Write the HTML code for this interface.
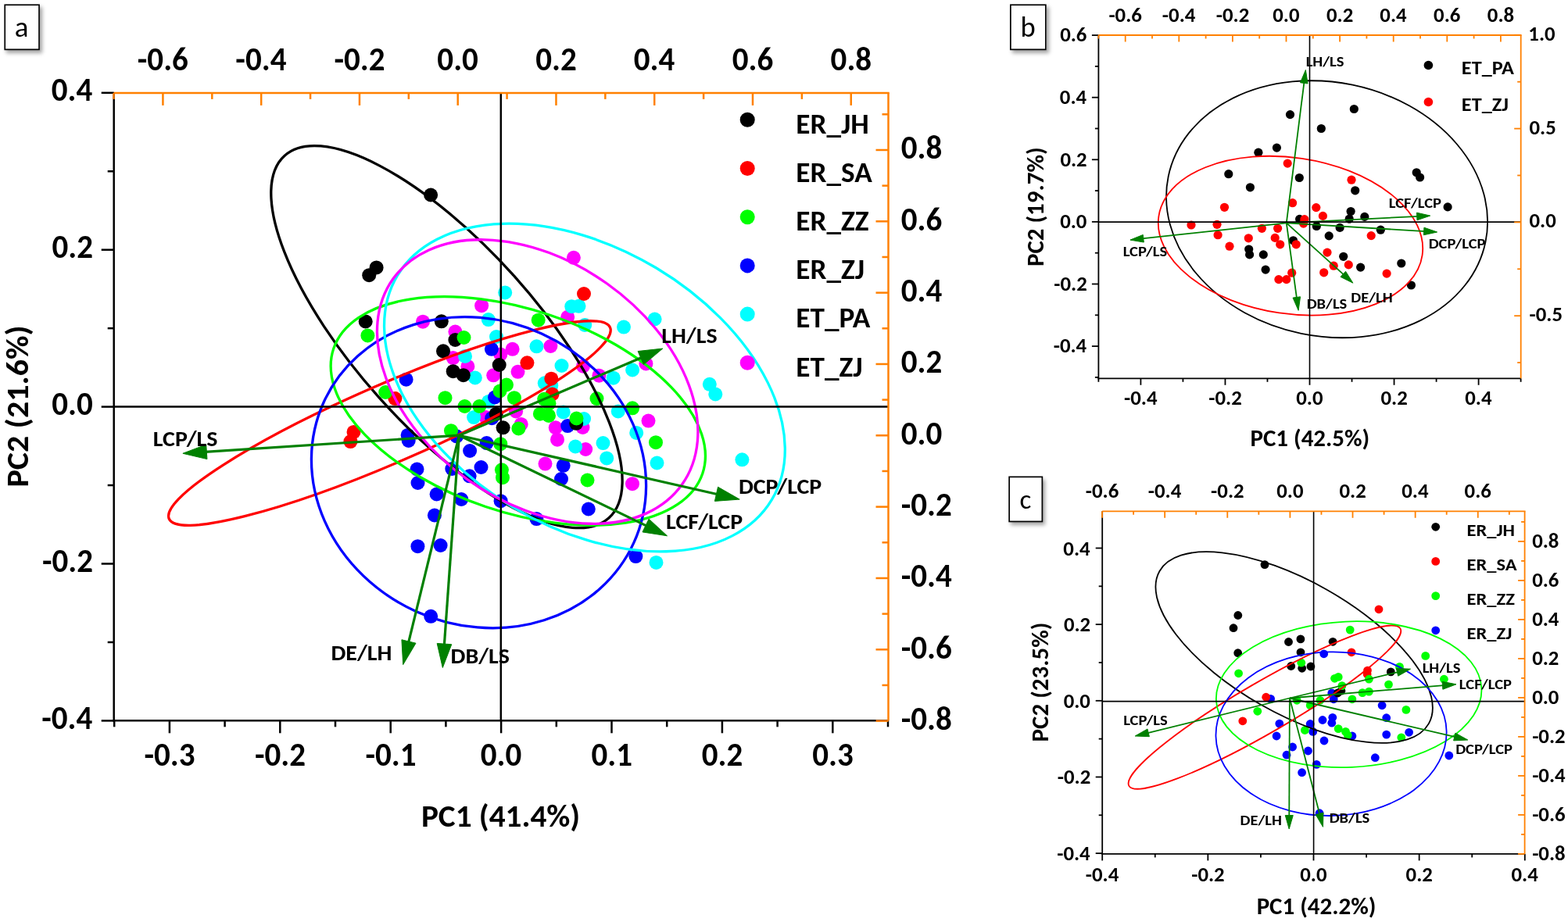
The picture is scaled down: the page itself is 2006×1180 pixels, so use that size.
<!DOCTYPE html>
<html><head><meta charset="utf-8"><title>PCA biplots</title>
<style>
html,body{margin:0;padding:0;background:#fff;}
#wrap{position:relative;width:2006px;height:1180px;overflow:hidden;background:#fff;}
#wrap svg{position:absolute;left:0;top:0;display:block;}
.pl{position:absolute;background:#fff;box-shadow:3px 4px 5px rgba(0,0,0,0.36);}
</style></head>
<body>
<div id="wrap">
<div class="pl" style="left:5.4px;top:5.4px;width:45.5px;height:58.8px"></div>
<div class="pl" style="left:1292.0px;top:5.4px;width:46.7px;height:58.8px"></div>
<div class="pl" style="left:1290.3px;top:609.5px;width:43.9px;height:58.8px"></div>
<svg width="2006" height="1180" viewBox="0 0 2006 1180">
<rect x="6.25" y="6.25" width="43.80" height="57.10" fill="none" stroke="#000" stroke-width="1.7"/>
<rect x="1292.85" y="6.25" width="45.00" height="57.10" fill="none" stroke="#000" stroke-width="1.7"/>
<rect x="1291.15" y="610.35" width="42.20" height="57.10" fill="none" stroke="#000" stroke-width="1.7"/>
<g fill="#FF00FF"><circle cx="733.9" cy="329.8" r="9"/><circle cx="616.1" cy="391.2" r="9"/><circle cx="541.0" cy="411.7" r="9"/><circle cx="726.2" cy="405.8" r="9"/><circle cx="582.4" cy="424.5" r="9"/><circle cx="655.6" cy="446.8" r="9"/><circle cx="704.4" cy="443.0" r="9"/><circle cx="640.3" cy="453.6" r="9"/><circle cx="579.7" cy="458.1" r="9"/><circle cx="598.4" cy="468.9" r="9"/><circle cx="631.2" cy="480.3" r="9"/><circle cx="662.5" cy="475.8" r="9"/><circle cx="746.0" cy="468.7" r="9"/><circle cx="826.4" cy="465.4" r="9"/><circle cx="766.4" cy="480.7" r="9"/><circle cx="829.5" cy="538.6" r="9"/><circle cx="745.5" cy="547.0" r="9"/><circle cx="749.2" cy="575.0" r="9"/><circle cx="809.0" cy="619.2" r="9"/><circle cx="621.5" cy="534.1" r="9"/><circle cx="660.1" cy="526.4" r="9"/><circle cx="666.7" cy="542.9" r="9"/><circle cx="710.8" cy="547.3" r="9"/><circle cx="713.0" cy="562.7" r="9"/><circle cx="697.5" cy="593.6" r="9"/></g>
<g fill="#00FFFF"><circle cx="646.2" cy="374.5" r="9"/><circle cx="731.3" cy="392.2" r="9"/><circle cx="740.5" cy="391.8" r="9"/><circle cx="748.2" cy="416.0" r="9"/><circle cx="798.0" cy="418.6" r="9"/><circle cx="837.6" cy="408.5" r="9"/><circle cx="784.7" cy="483.7" r="9"/><circle cx="809.1" cy="473.5" r="9"/><circle cx="907.8" cy="491.8" r="9"/><circle cx="915.3" cy="504.5" r="9"/><circle cx="790.8" cy="526.4" r="9"/><circle cx="747.1" cy="536.0" r="9"/><circle cx="814.2" cy="553.9" r="9"/><circle cx="771.5" cy="567.1" r="9"/><circle cx="776.2" cy="586.4" r="9"/><circle cx="840.5" cy="592.5" r="9"/><circle cx="949.4" cy="588.3" r="9"/><circle cx="624.8" cy="409.1" r="9"/><circle cx="635.0" cy="431.0" r="9"/><circle cx="686.5" cy="443.3" r="9"/><circle cx="595.0" cy="455.9" r="9"/><circle cx="718.5" cy="468.0" r="9"/><circle cx="607.8" cy="483.5" r="9"/><circle cx="705.3" cy="493.4" r="9"/><circle cx="625.1" cy="513.9" r="9"/><circle cx="606.1" cy="534.1" r="9"/><circle cx="720.7" cy="527.5" r="9"/><circle cx="736.1" cy="571.5" r="9"/><circle cx="839.5" cy="719.9" r="9"/><circle cx="696.8" cy="490.3" r="9"/></g>
<g fill="#0000FF"><circle cx="519.6" cy="485.7" r="9"/><circle cx="521.6" cy="556.9" r="9"/><circle cx="522.7" cy="564.0" r="9"/><circle cx="533.5" cy="600.5" r="9"/><circle cx="534.5" cy="618.0" r="9"/><circle cx="558.6" cy="632.5" r="9"/><circle cx="590.2" cy="639.0" r="9"/><circle cx="555.9" cy="659.5" r="9"/><circle cx="534.4" cy="699.2" r="9"/><circle cx="563.6" cy="698.0" r="9"/><circle cx="578.3" cy="600.0" r="9"/><circle cx="600.6" cy="609.3" r="9"/><circle cx="615.5" cy="598.0" r="9"/><circle cx="551.2" cy="788.8" r="9"/><circle cx="628.9" cy="446.8" r="9"/><circle cx="633.0" cy="508.5" r="9"/><circle cx="629.2" cy="535.2" r="9"/><circle cx="584.1" cy="558.3" r="9"/><circle cx="622.6" cy="567.1" r="9"/><circle cx="601.1" cy="577.0" r="9"/><circle cx="718.0" cy="613.0" r="9"/><circle cx="720.7" cy="595.8" r="9"/><circle cx="726.2" cy="545.1" r="9"/><circle cx="752.8" cy="651.5" r="9"/><circle cx="686.4" cy="664.1" r="9"/><circle cx="640.6" cy="641.2" r="9"/><circle cx="813.4" cy="712.1" r="9"/></g>
<g fill="#000000"><circle cx="551.1" cy="249.5" r="9"/><circle cx="481.6" cy="342.4" r="9"/><circle cx="472.2" cy="352.2" r="9"/><circle cx="467.7" cy="411.5" r="9"/><circle cx="564.8" cy="411.3" r="9"/><circle cx="582.4" cy="435.0" r="9"/><circle cx="567.0" cy="449.3" r="9"/><circle cx="579.7" cy="475.2" r="9"/><circle cx="592.8" cy="480.2" r="9"/><circle cx="638.7" cy="467.0" r="9"/><circle cx="634.7" cy="529.7" r="9"/><circle cx="643.6" cy="547.3" r="9"/><circle cx="737.2" cy="541.8" r="9"/></g>
<g fill="#FF0000"><circle cx="747.0" cy="376.0" r="9"/><circle cx="706.5" cy="504.5" r="9"/><circle cx="674.4" cy="464.3" r="9"/><circle cx="705.3" cy="484.7" r="9"/><circle cx="505.4" cy="510.1" r="9"/><circle cx="452.5" cy="552.9" r="9"/><circle cx="448.4" cy="565.1" r="9"/></g>
<g fill="#00FF00"><circle cx="470.4" cy="429.4" r="9"/><circle cx="493.2" cy="502.0" r="9"/><circle cx="569.5" cy="509.2" r="9"/><circle cx="577.0" cy="551.2" r="9"/><circle cx="593.5" cy="432.0" r="9"/><circle cx="688.7" cy="409.7" r="9"/><circle cx="648.0" cy="492.5" r="9"/><circle cx="639.5" cy="500.5" r="9"/><circle cx="594.5" cy="520.0" r="9"/><circle cx="613.3" cy="520.0" r="9"/><circle cx="657.9" cy="509.2" r="9"/><circle cx="663.4" cy="548.4" r="9"/><circle cx="696.2" cy="510.8" r="9"/><circle cx="702.5" cy="516.5" r="9"/><circle cx="690.9" cy="529.7" r="9"/><circle cx="702.0" cy="531.9" r="9"/><circle cx="737.5" cy="535.5" r="9"/><circle cx="640.3" cy="568.2" r="9"/><circle cx="641.9" cy="601.3" r="9"/><circle cx="643.0" cy="611.2" r="9"/><circle cx="751.5" cy="614.5" r="9"/><circle cx="763.5" cy="510.1" r="9"/><circle cx="809.1" cy="522.3" r="9"/><circle cx="839.0" cy="566.2" r="9"/></g>
<ellipse cx="571.47" cy="431.15" rx="116.23" ry="311.10" transform="rotate(138.21 571.47 431.15)" fill="none" stroke="#000000" stroke-width="3.3"/>
<ellipse cx="498.41" cy="541.55" rx="50.19" ry="307.53" transform="rotate(66.54 498.41 541.55)" fill="none" stroke="#FF0000" stroke-width="3.3"/>
<ellipse cx="662.80" cy="525.99" rx="129.33" ry="249.17" transform="rotate(108.71 662.80 525.99)" fill="none" stroke="#00FF00" stroke-width="3.3"/>
<ellipse cx="612.50" cy="604.68" rx="195.05" ry="217.79" transform="rotate(114.33 612.50 604.68)" fill="none" stroke="#0000FF" stroke-width="3.3"/>
<ellipse cx="747.92" cy="496.03" rx="178.44" ry="279.15" transform="rotate(120.96 747.92 496.03)" fill="none" stroke="#00FFFF" stroke-width="3.3"/>
<ellipse cx="687.66" cy="488.53" rx="153.84" ry="226.91" transform="rotate(125.49 687.66 488.53)" fill="none" stroke="#FF00FF" stroke-width="3.3"/>
<line x1="587.40" y1="557.20" x2="821.59" y2="457.28" stroke="#008000" stroke-width="3.2"/>
<polygon points="847.80,446.10 823.40,466.62 816.10,449.52" fill="#008000" stroke="#008000" stroke-width="1" stroke-linejoin="round"/>
<line x1="587.40" y1="557.20" x2="262.34" y2="578.44" stroke="#008000" stroke-width="3.2"/>
<polygon points="233.90,580.30 263.73,569.03 264.94,587.59" fill="#008000" stroke="#008000" stroke-width="1" stroke-linejoin="round"/>
<line x1="587.40" y1="557.20" x2="918.41" y2="632.76" stroke="#008000" stroke-width="3.2"/>
<polygon points="946.20,639.10 914.40,641.38 918.53,623.25" fill="#008000" stroke="#008000" stroke-width="1" stroke-linejoin="round"/>
<line x1="587.40" y1="557.20" x2="827.84" y2="673.40" stroke="#008000" stroke-width="3.2"/>
<polygon points="853.50,685.80 821.99,680.90 830.09,664.16" fill="#008000" stroke="#008000" stroke-width="1" stroke-linejoin="round"/>
<line x1="587.40" y1="557.20" x2="522.47" y2="822.91" stroke="#008000" stroke-width="3.2"/>
<polygon points="515.70,850.60 513.91,818.76 531.97,823.18" fill="#008000" stroke="#008000" stroke-width="1" stroke-linejoin="round"/>
<line x1="587.40" y1="557.20" x2="568.32" y2="826.07" stroke="#008000" stroke-width="3.2"/>
<polygon points="566.30,854.50 559.18,823.42 577.74,824.73" fill="#008000" stroke="#008000" stroke-width="1" stroke-linejoin="round"/>
<line x1="145.70" y1="520.50" x2="1136.50" y2="520.50" stroke="#000" stroke-width="2.5" stroke-linecap="butt"/>
<line x1="640.80" y1="118.90" x2="640.80" y2="922.30" stroke="#000" stroke-width="2.5" stroke-linecap="butt"/>
<line x1="129.70" y1="922.40" x2="145.70" y2="922.40" stroke="#000" stroke-width="2.5" stroke-linecap="butt"/>
<line x1="137.70" y1="821.95" x2="145.70" y2="821.95" stroke="#000" stroke-width="2.5" stroke-linecap="butt"/>
<line x1="129.70" y1="721.50" x2="145.70" y2="721.50" stroke="#000" stroke-width="2.5" stroke-linecap="butt"/>
<line x1="137.70" y1="621.05" x2="145.70" y2="621.05" stroke="#000" stroke-width="2.5" stroke-linecap="butt"/>
<line x1="129.70" y1="520.60" x2="145.70" y2="520.60" stroke="#000" stroke-width="2.5" stroke-linecap="butt"/>
<line x1="137.70" y1="420.15" x2="145.70" y2="420.15" stroke="#000" stroke-width="2.5" stroke-linecap="butt"/>
<line x1="129.70" y1="319.70" x2="145.70" y2="319.70" stroke="#000" stroke-width="2.5" stroke-linecap="butt"/>
<line x1="137.70" y1="219.25" x2="145.70" y2="219.25" stroke="#000" stroke-width="2.5" stroke-linecap="butt"/>
<line x1="129.70" y1="118.80" x2="145.70" y2="118.80" stroke="#000" stroke-width="2.5" stroke-linecap="butt"/>
<line x1="146.20" y1="922.30" x2="146.20" y2="930.30" stroke="#000" stroke-width="2.5" stroke-linecap="butt"/>
<line x1="216.90" y1="922.30" x2="216.90" y2="938.30" stroke="#000" stroke-width="2.5" stroke-linecap="butt"/>
<line x1="287.60" y1="922.30" x2="287.60" y2="930.30" stroke="#000" stroke-width="2.5" stroke-linecap="butt"/>
<line x1="358.30" y1="922.30" x2="358.30" y2="938.30" stroke="#000" stroke-width="2.5" stroke-linecap="butt"/>
<line x1="429.00" y1="922.30" x2="429.00" y2="930.30" stroke="#000" stroke-width="2.5" stroke-linecap="butt"/>
<line x1="499.70" y1="922.30" x2="499.70" y2="938.30" stroke="#000" stroke-width="2.5" stroke-linecap="butt"/>
<line x1="570.40" y1="922.30" x2="570.40" y2="930.30" stroke="#000" stroke-width="2.5" stroke-linecap="butt"/>
<line x1="641.10" y1="922.30" x2="641.10" y2="938.30" stroke="#000" stroke-width="2.5" stroke-linecap="butt"/>
<line x1="711.80" y1="922.30" x2="711.80" y2="930.30" stroke="#000" stroke-width="2.5" stroke-linecap="butt"/>
<line x1="782.50" y1="922.30" x2="782.50" y2="938.30" stroke="#000" stroke-width="2.5" stroke-linecap="butt"/>
<line x1="853.20" y1="922.30" x2="853.20" y2="930.30" stroke="#000" stroke-width="2.5" stroke-linecap="butt"/>
<line x1="923.90" y1="922.30" x2="923.90" y2="938.30" stroke="#000" stroke-width="2.5" stroke-linecap="butt"/>
<line x1="994.60" y1="922.30" x2="994.60" y2="930.30" stroke="#000" stroke-width="2.5" stroke-linecap="butt"/>
<line x1="1065.30" y1="922.30" x2="1065.30" y2="938.30" stroke="#000" stroke-width="2.5" stroke-linecap="butt"/>
<line x1="1136.00" y1="922.30" x2="1136.00" y2="930.30" stroke="#000" stroke-width="2.5" stroke-linecap="butt"/>
<line x1="145.70" y1="117.90" x2="145.70" y2="923.55" stroke="#000" stroke-width="2.5" stroke-linecap="butt"/>
<line x1="144.45" y1="922.30" x2="1136.50" y2="922.30" stroke="#000" stroke-width="2.5" stroke-linecap="butt"/>
<line x1="145.54" y1="118.90" x2="145.54" y2="126.90" stroke="#FF8000" stroke-width="2.5" stroke-linecap="butt"/>
<line x1="208.42" y1="118.90" x2="208.42" y2="134.90" stroke="#FF8000" stroke-width="2.5" stroke-linecap="butt"/>
<line x1="271.30" y1="118.90" x2="271.30" y2="126.90" stroke="#FF8000" stroke-width="2.5" stroke-linecap="butt"/>
<line x1="334.18" y1="118.90" x2="334.18" y2="134.90" stroke="#FF8000" stroke-width="2.5" stroke-linecap="butt"/>
<line x1="397.06" y1="118.90" x2="397.06" y2="126.90" stroke="#FF8000" stroke-width="2.5" stroke-linecap="butt"/>
<line x1="459.94" y1="118.90" x2="459.94" y2="134.90" stroke="#FF8000" stroke-width="2.5" stroke-linecap="butt"/>
<line x1="522.82" y1="118.90" x2="522.82" y2="126.90" stroke="#FF8000" stroke-width="2.5" stroke-linecap="butt"/>
<line x1="585.70" y1="118.90" x2="585.70" y2="134.90" stroke="#FF8000" stroke-width="2.5" stroke-linecap="butt"/>
<line x1="648.58" y1="118.90" x2="648.58" y2="126.90" stroke="#FF8000" stroke-width="2.5" stroke-linecap="butt"/>
<line x1="711.46" y1="118.90" x2="711.46" y2="134.90" stroke="#FF8000" stroke-width="2.5" stroke-linecap="butt"/>
<line x1="774.34" y1="118.90" x2="774.34" y2="126.90" stroke="#FF8000" stroke-width="2.5" stroke-linecap="butt"/>
<line x1="837.22" y1="118.90" x2="837.22" y2="134.90" stroke="#FF8000" stroke-width="2.5" stroke-linecap="butt"/>
<line x1="900.10" y1="118.90" x2="900.10" y2="126.90" stroke="#FF8000" stroke-width="2.5" stroke-linecap="butt"/>
<line x1="962.98" y1="118.90" x2="962.98" y2="134.90" stroke="#FF8000" stroke-width="2.5" stroke-linecap="butt"/>
<line x1="1025.86" y1="118.90" x2="1025.86" y2="126.90" stroke="#FF8000" stroke-width="2.5" stroke-linecap="butt"/>
<line x1="1088.74" y1="118.90" x2="1088.74" y2="134.90" stroke="#FF8000" stroke-width="2.5" stroke-linecap="butt"/>
<line x1="1120.50" y1="922.62" x2="1136.50" y2="922.62" stroke="#FF8000" stroke-width="2.5" stroke-linecap="butt"/>
<line x1="1128.50" y1="876.95" x2="1136.50" y2="876.95" stroke="#FF8000" stroke-width="2.5" stroke-linecap="butt"/>
<line x1="1120.50" y1="831.29" x2="1136.50" y2="831.29" stroke="#FF8000" stroke-width="2.5" stroke-linecap="butt"/>
<line x1="1128.50" y1="785.62" x2="1136.50" y2="785.62" stroke="#FF8000" stroke-width="2.5" stroke-linecap="butt"/>
<line x1="1120.50" y1="739.96" x2="1136.50" y2="739.96" stroke="#FF8000" stroke-width="2.5" stroke-linecap="butt"/>
<line x1="1128.50" y1="694.29" x2="1136.50" y2="694.29" stroke="#FF8000" stroke-width="2.5" stroke-linecap="butt"/>
<line x1="1120.50" y1="648.63" x2="1136.50" y2="648.63" stroke="#FF8000" stroke-width="2.5" stroke-linecap="butt"/>
<line x1="1128.50" y1="602.96" x2="1136.50" y2="602.96" stroke="#FF8000" stroke-width="2.5" stroke-linecap="butt"/>
<line x1="1120.50" y1="557.30" x2="1136.50" y2="557.30" stroke="#FF8000" stroke-width="2.5" stroke-linecap="butt"/>
<line x1="1128.50" y1="511.63" x2="1136.50" y2="511.63" stroke="#FF8000" stroke-width="2.5" stroke-linecap="butt"/>
<line x1="1120.50" y1="465.97" x2="1136.50" y2="465.97" stroke="#FF8000" stroke-width="2.5" stroke-linecap="butt"/>
<line x1="1128.50" y1="420.30" x2="1136.50" y2="420.30" stroke="#FF8000" stroke-width="2.5" stroke-linecap="butt"/>
<line x1="1120.50" y1="374.64" x2="1136.50" y2="374.64" stroke="#FF8000" stroke-width="2.5" stroke-linecap="butt"/>
<line x1="1128.50" y1="328.97" x2="1136.50" y2="328.97" stroke="#FF8000" stroke-width="2.5" stroke-linecap="butt"/>
<line x1="1120.50" y1="283.31" x2="1136.50" y2="283.31" stroke="#FF8000" stroke-width="2.5" stroke-linecap="butt"/>
<line x1="1128.50" y1="237.64" x2="1136.50" y2="237.64" stroke="#FF8000" stroke-width="2.5" stroke-linecap="butt"/>
<line x1="1120.50" y1="191.98" x2="1136.50" y2="191.98" stroke="#FF8000" stroke-width="2.5" stroke-linecap="butt"/>
<line x1="1128.50" y1="146.31" x2="1136.50" y2="146.31" stroke="#FF8000" stroke-width="2.5" stroke-linecap="butt"/>
<line x1="145.70" y1="118.90" x2="1137.75" y2="118.90" stroke="#FF8000" stroke-width="2.5" stroke-linecap="butt"/>
<line x1="1136.50" y1="118.90" x2="1136.50" y2="922.30" stroke="#FF8000" stroke-width="2.5" stroke-linecap="butt"/>
<circle cx="956.2" cy="153.3" r="9.5" fill="#000000"/>
<circle cx="956.2" cy="215.5" r="9.5" fill="#FF0000"/>
<circle cx="956.2" cy="277.7" r="9.5" fill="#00FF00"/>
<circle cx="956.2" cy="339.9" r="9.5" fill="#0000FF"/>
<circle cx="956.2" cy="402.1" r="9.5" fill="#00FFFF"/>
<circle cx="956.2" cy="464.3" r="9.5" fill="#FF00FF"/>
<g fill="#000000"><circle cx="1650.5" cy="146.6" r="5.6"/><circle cx="1633.4" cy="189.1" r="5.6"/><circle cx="1609.9" cy="195.2" r="5.6"/><circle cx="1571.8" cy="222.7" r="5.6"/><circle cx="1662.3" cy="227.5" r="5.6"/><circle cx="1599.4" cy="239.8" r="5.6"/><circle cx="1732.3" cy="139.5" r="5.6"/><circle cx="1690.3" cy="164.5" r="5.6"/><circle cx="1812.2" cy="220.8" r="5.6"/><circle cx="1816.6" cy="227.0" r="5.6"/><circle cx="1733.7" cy="243.8" r="5.6"/><circle cx="1728.1" cy="270.5" r="5.6"/><circle cx="1726.2" cy="280.2" r="5.6"/><circle cx="1745.8" cy="277.4" r="5.6"/><circle cx="1852.1" cy="264.9" r="5.6"/><circle cx="1662.6" cy="280.4" r="5.6"/><circle cx="1684.3" cy="289.5" r="5.6"/><circle cx="1700.2" cy="301.9" r="5.6"/><circle cx="1714.1" cy="291.4" r="5.6"/><circle cx="1766.3" cy="294.2" r="5.6"/><circle cx="1654.5" cy="307.8" r="5.6"/><circle cx="1597.7" cy="319.0" r="5.6"/><circle cx="1598.6" cy="325.9" r="5.6"/><circle cx="1616.3" cy="325.9" r="5.6"/><circle cx="1619.1" cy="345.1" r="5.6"/><circle cx="1718.7" cy="328.3" r="5.6"/><circle cx="1740.6" cy="342.1" r="5.6"/><circle cx="1792.8" cy="337.0" r="5.6"/><circle cx="1805.4" cy="365.0" r="5.6"/></g>
<g fill="#FF0000"><circle cx="1647.2" cy="209.1" r="5.6"/><circle cx="1566.5" cy="265.3" r="5.6"/><circle cx="1653.6" cy="259.7" r="5.6"/><circle cx="1683.8" cy="265.6" r="5.6"/><circle cx="1692.4" cy="276.4" r="5.6"/><circle cx="1668.9" cy="280.6" r="5.6"/><circle cx="1667.6" cy="286.1" r="5.6"/><circle cx="1524.0" cy="288.0" r="5.6"/><circle cx="1557.0" cy="287.3" r="5.6"/><circle cx="1558.1" cy="300.7" r="5.6"/><circle cx="1614.4" cy="292.3" r="5.6"/><circle cx="1634.6" cy="292.3" r="5.6"/><circle cx="1597.3" cy="304.8" r="5.6"/><circle cx="1631.2" cy="304.4" r="5.6"/><circle cx="1637.7" cy="312.8" r="5.6"/><circle cx="1573.0" cy="315.2" r="5.6"/><circle cx="1658.2" cy="312.8" r="5.6"/><circle cx="1698.0" cy="323.1" r="5.6"/><circle cx="1652.7" cy="349.2" r="5.6"/><circle cx="1635.9" cy="357.6" r="5.6"/><circle cx="1645.8" cy="357.6" r="5.6"/><circle cx="1693.7" cy="348.8" r="5.6"/><circle cx="1729.0" cy="230.2" r="5.6"/><circle cx="1754.2" cy="301.6" r="5.6"/><circle cx="1706.2" cy="340.2" r="5.6"/><circle cx="1725.3" cy="338.9" r="5.6"/><circle cx="1774.1" cy="350.1" r="5.6"/></g>
<ellipse cx="1697.58" cy="267.74" rx="162.41" ry="207.16" transform="rotate(101.69 1697.58 267.74)" fill="none" stroke="#000000" stroke-width="1.8"/>
<ellipse cx="1650.99" cy="301.65" rx="99.86" ry="170.42" transform="rotate(98.39 1650.99 301.65)" fill="none" stroke="#FF0000" stroke-width="1.8"/>
<line x1="1645.80" y1="285.40" x2="1668.53" y2="104.38" stroke="#008000" stroke-width="1.8"/>
<polygon points="1670.40,89.50 1673.04,106.97 1663.52,105.77" fill="#008000" stroke="#008000" stroke-width="1" stroke-linejoin="round"/>
<line x1="1645.80" y1="285.40" x2="1460.81" y2="305.48" stroke="#008000" stroke-width="1.8"/>
<polygon points="1445.90,307.10 1462.28,300.49 1463.32,310.04" fill="#008000" stroke="#008000" stroke-width="1" stroke-linejoin="round"/>
<line x1="1645.80" y1="285.40" x2="1814.72" y2="276.86" stroke="#008000" stroke-width="1.8"/>
<polygon points="1829.70,276.10 1812.96,281.75 1812.48,272.16" fill="#008000" stroke="#008000" stroke-width="1" stroke-linejoin="round"/>
<line x1="1645.80" y1="285.40" x2="1823.63" y2="296.10" stroke="#008000" stroke-width="1.8"/>
<polygon points="1838.60,297.00 1821.34,300.77 1821.92,291.19" fill="#008000" stroke="#008000" stroke-width="1" stroke-linejoin="round"/>
<line x1="1645.80" y1="285.40" x2="1719.76" y2="352.15" stroke="#008000" stroke-width="1.8"/>
<polygon points="1730.90,362.20 1715.06,354.37 1721.50,347.25" fill="#008000" stroke="#008000" stroke-width="1" stroke-linejoin="round"/>
<line x1="1645.80" y1="285.40" x2="1659.07" y2="382.44" stroke="#008000" stroke-width="1.8"/>
<polygon points="1661.10,397.30 1654.04,381.11 1663.55,379.81" fill="#008000" stroke="#008000" stroke-width="1" stroke-linejoin="round"/>
<line x1="1405.40" y1="284.10" x2="1945.70" y2="284.10" stroke="#000" stroke-width="1.6" stroke-linecap="butt"/>
<line x1="1675.50" y1="45.00" x2="1675.50" y2="484.30" stroke="#000" stroke-width="1.6" stroke-linecap="butt"/>
<line x1="1400.90" y1="482.90" x2="1405.40" y2="482.90" stroke="#000" stroke-width="1.8" stroke-linecap="butt"/>
<line x1="1396.90" y1="443.10" x2="1405.40" y2="443.10" stroke="#000" stroke-width="1.8" stroke-linecap="butt"/>
<line x1="1400.90" y1="403.30" x2="1405.40" y2="403.30" stroke="#000" stroke-width="1.8" stroke-linecap="butt"/>
<line x1="1396.90" y1="363.50" x2="1405.40" y2="363.50" stroke="#000" stroke-width="1.8" stroke-linecap="butt"/>
<line x1="1400.90" y1="323.70" x2="1405.40" y2="323.70" stroke="#000" stroke-width="1.8" stroke-linecap="butt"/>
<line x1="1396.90" y1="283.90" x2="1405.40" y2="283.90" stroke="#000" stroke-width="1.8" stroke-linecap="butt"/>
<line x1="1400.90" y1="244.10" x2="1405.40" y2="244.10" stroke="#000" stroke-width="1.8" stroke-linecap="butt"/>
<line x1="1396.90" y1="204.30" x2="1405.40" y2="204.30" stroke="#000" stroke-width="1.8" stroke-linecap="butt"/>
<line x1="1400.90" y1="164.50" x2="1405.40" y2="164.50" stroke="#000" stroke-width="1.8" stroke-linecap="butt"/>
<line x1="1396.90" y1="124.70" x2="1405.40" y2="124.70" stroke="#000" stroke-width="1.8" stroke-linecap="butt"/>
<line x1="1400.90" y1="84.90" x2="1405.40" y2="84.90" stroke="#000" stroke-width="1.8" stroke-linecap="butt"/>
<line x1="1396.90" y1="45.10" x2="1405.40" y2="45.10" stroke="#000" stroke-width="1.8" stroke-linecap="butt"/>
<line x1="1405.38" y1="484.30" x2="1405.38" y2="488.80" stroke="#000" stroke-width="1.8" stroke-linecap="butt"/>
<line x1="1459.40" y1="484.30" x2="1459.40" y2="492.80" stroke="#000" stroke-width="1.8" stroke-linecap="butt"/>
<line x1="1513.42" y1="484.30" x2="1513.42" y2="488.80" stroke="#000" stroke-width="1.8" stroke-linecap="butt"/>
<line x1="1567.45" y1="484.30" x2="1567.45" y2="492.80" stroke="#000" stroke-width="1.8" stroke-linecap="butt"/>
<line x1="1621.47" y1="484.30" x2="1621.47" y2="488.80" stroke="#000" stroke-width="1.8" stroke-linecap="butt"/>
<line x1="1675.50" y1="484.30" x2="1675.50" y2="492.80" stroke="#000" stroke-width="1.8" stroke-linecap="butt"/>
<line x1="1729.53" y1="484.30" x2="1729.53" y2="488.80" stroke="#000" stroke-width="1.8" stroke-linecap="butt"/>
<line x1="1783.55" y1="484.30" x2="1783.55" y2="492.80" stroke="#000" stroke-width="1.8" stroke-linecap="butt"/>
<line x1="1837.58" y1="484.30" x2="1837.58" y2="488.80" stroke="#000" stroke-width="1.8" stroke-linecap="butt"/>
<line x1="1891.60" y1="484.30" x2="1891.60" y2="492.80" stroke="#000" stroke-width="1.8" stroke-linecap="butt"/>
<line x1="1945.62" y1="484.30" x2="1945.62" y2="488.80" stroke="#000" stroke-width="1.8" stroke-linecap="butt"/>
<line x1="1405.40" y1="45.00" x2="1405.40" y2="485.20" stroke="#000" stroke-width="1.8" stroke-linecap="butt"/>
<line x1="1404.50" y1="484.30" x2="1945.70" y2="484.30" stroke="#000" stroke-width="1.8" stroke-linecap="butt"/>
<line x1="1405.40" y1="45.00" x2="1405.40" y2="49.50" stroke="#FF8000" stroke-width="1.8" stroke-linecap="butt"/>
<line x1="1439.70" y1="45.00" x2="1439.70" y2="53.50" stroke="#FF8000" stroke-width="1.8" stroke-linecap="butt"/>
<line x1="1474.00" y1="45.00" x2="1474.00" y2="49.50" stroke="#FF8000" stroke-width="1.8" stroke-linecap="butt"/>
<line x1="1508.30" y1="45.00" x2="1508.30" y2="53.50" stroke="#FF8000" stroke-width="1.8" stroke-linecap="butt"/>
<line x1="1542.60" y1="45.00" x2="1542.60" y2="49.50" stroke="#FF8000" stroke-width="1.8" stroke-linecap="butt"/>
<line x1="1576.90" y1="45.00" x2="1576.90" y2="53.50" stroke="#FF8000" stroke-width="1.8" stroke-linecap="butt"/>
<line x1="1611.20" y1="45.00" x2="1611.20" y2="49.50" stroke="#FF8000" stroke-width="1.8" stroke-linecap="butt"/>
<line x1="1645.50" y1="45.00" x2="1645.50" y2="53.50" stroke="#FF8000" stroke-width="1.8" stroke-linecap="butt"/>
<line x1="1679.80" y1="45.00" x2="1679.80" y2="49.50" stroke="#FF8000" stroke-width="1.8" stroke-linecap="butt"/>
<line x1="1714.10" y1="45.00" x2="1714.10" y2="53.50" stroke="#FF8000" stroke-width="1.8" stroke-linecap="butt"/>
<line x1="1748.40" y1="45.00" x2="1748.40" y2="49.50" stroke="#FF8000" stroke-width="1.8" stroke-linecap="butt"/>
<line x1="1782.70" y1="45.00" x2="1782.70" y2="53.50" stroke="#FF8000" stroke-width="1.8" stroke-linecap="butt"/>
<line x1="1817.00" y1="45.00" x2="1817.00" y2="49.50" stroke="#FF8000" stroke-width="1.8" stroke-linecap="butt"/>
<line x1="1851.30" y1="45.00" x2="1851.30" y2="53.50" stroke="#FF8000" stroke-width="1.8" stroke-linecap="butt"/>
<line x1="1885.60" y1="45.00" x2="1885.60" y2="49.50" stroke="#FF8000" stroke-width="1.8" stroke-linecap="butt"/>
<line x1="1919.90" y1="45.00" x2="1919.90" y2="53.50" stroke="#FF8000" stroke-width="1.8" stroke-linecap="butt"/>
<line x1="1941.20" y1="464.10" x2="1945.70" y2="464.10" stroke="#FF8000" stroke-width="1.8" stroke-linecap="butt"/>
<line x1="1937.20" y1="404.20" x2="1945.70" y2="404.20" stroke="#FF8000" stroke-width="1.8" stroke-linecap="butt"/>
<line x1="1941.20" y1="344.30" x2="1945.70" y2="344.30" stroke="#FF8000" stroke-width="1.8" stroke-linecap="butt"/>
<line x1="1937.20" y1="284.40" x2="1945.70" y2="284.40" stroke="#FF8000" stroke-width="1.8" stroke-linecap="butt"/>
<line x1="1941.20" y1="224.50" x2="1945.70" y2="224.50" stroke="#FF8000" stroke-width="1.8" stroke-linecap="butt"/>
<line x1="1937.20" y1="164.60" x2="1945.70" y2="164.60" stroke="#FF8000" stroke-width="1.8" stroke-linecap="butt"/>
<line x1="1941.20" y1="104.70" x2="1945.70" y2="104.70" stroke="#FF8000" stroke-width="1.8" stroke-linecap="butt"/>
<line x1="1937.20" y1="44.80" x2="1945.70" y2="44.80" stroke="#FF8000" stroke-width="1.8" stroke-linecap="butt"/>
<line x1="1405.40" y1="45.00" x2="1946.60" y2="45.00" stroke="#FF8000" stroke-width="1.8" stroke-linecap="butt"/>
<line x1="1945.70" y1="45.00" x2="1945.70" y2="484.30" stroke="#FF8000" stroke-width="1.8" stroke-linecap="butt"/>
<circle cx="1827.4" cy="83.5" r="5.8" fill="#000000"/>
<circle cx="1827.4" cy="130.5" r="5.8" fill="#FF0000"/>
<g fill="#0000FF"><circle cx="1625.6" cy="894.4" r="5.4"/><circle cx="1693.7" cy="836.8" r="5.4"/><circle cx="1636.8" cy="926.1" r="5.4"/><circle cx="1633.1" cy="942.0" r="5.4"/><circle cx="1676.2" cy="926.5" r="5.4"/><circle cx="1679.7" cy="936.4" r="5.4"/><circle cx="1692.0" cy="921.5" r="5.4"/><circle cx="1694.0" cy="948.0" r="5.4"/><circle cx="1653.6" cy="956.0" r="5.4"/><circle cx="1646.0" cy="966.2" r="5.4"/><circle cx="1673.5" cy="961.0" r="5.4"/><circle cx="1684.3" cy="978.4" r="5.4"/><circle cx="1665.6" cy="988.7" r="5.4"/><circle cx="1703.8" cy="887.0" r="5.4"/><circle cx="1706.2" cy="894.8" r="5.4"/><circle cx="1768.1" cy="902.8" r="5.4"/><circle cx="1704.8" cy="918.3" r="5.4"/><circle cx="1773.7" cy="918.7" r="5.4"/><circle cx="1703.8" cy="925.2" r="5.4"/><circle cx="1729.9" cy="942.0" r="5.4"/><circle cx="1773.7" cy="940.1" r="5.4"/><circle cx="1802.6" cy="937.3" r="5.4"/><circle cx="1759.3" cy="969.7" r="5.4"/><circle cx="1853.8" cy="967.0" r="5.4"/><circle cx="1688.1" cy="1040.7" r="5.4"/></g>
<g fill="#000000"><circle cx="1618.0" cy="722.6" r="5.4"/><circle cx="1583.8" cy="787.5" r="5.4"/><circle cx="1578.0" cy="803.7" r="5.4"/><circle cx="1648.5" cy="821.5" r="5.4"/><circle cx="1663.9" cy="817.9" r="5.4"/><circle cx="1583.7" cy="835.7" r="5.4"/><circle cx="1664.0" cy="834.8" r="5.4"/><circle cx="1651.7" cy="852.5" r="5.4"/><circle cx="1665.7" cy="855.3" r="5.4"/><circle cx="1676.9" cy="853.0" r="5.4"/><circle cx="1705.1" cy="821.3" r="5.4"/><circle cx="1779.3" cy="859.9" r="5.4"/><circle cx="1715.9" cy="884.2" r="5.4"/><circle cx="1711.3" cy="887.0" r="5.4"/></g>
<g fill="#FF0000"><circle cx="1764.0" cy="779.8" r="5.4"/><circle cx="1619.7" cy="892.2" r="5.4"/><circle cx="1589.8" cy="922.8" r="5.4"/><circle cx="1729.0" cy="834.8" r="5.4"/><circle cx="1749.5" cy="858.1" r="5.4"/><circle cx="1749.1" cy="862.7" r="5.4"/></g>
<g fill="#00FF00"><circle cx="1727.2" cy="806.1" r="5.4"/><circle cx="1664.8" cy="848.2" r="5.4"/><circle cx="1584.6" cy="861.8" r="5.4"/><circle cx="1608.8" cy="910.3" r="5.4"/><circle cx="1659.2" cy="896.3" r="5.4"/><circle cx="1676.2" cy="902.8" r="5.4"/><circle cx="1689.0" cy="896.3" r="5.4"/><circle cx="1669.4" cy="934.5" r="5.4"/><circle cx="1823.7" cy="839.4" r="5.4"/><circle cx="1790.5" cy="853.4" r="5.4"/><circle cx="1707.5" cy="868.3" r="5.4"/><circle cx="1712.2" cy="866.4" r="5.4"/><circle cx="1751.4" cy="869.2" r="5.4"/><circle cx="1847.4" cy="869.2" r="5.4"/><circle cx="1776.5" cy="876.1" r="5.4"/><circle cx="1716.9" cy="877.6" r="5.4"/><circle cx="1743.0" cy="886.6" r="5.4"/><circle cx="1751.4" cy="885.1" r="5.4"/><circle cx="1729.9" cy="894.8" r="5.4"/><circle cx="1798.9" cy="908.4" r="5.4"/><circle cx="1712.2" cy="932.6" r="5.4"/><circle cx="1721.5" cy="936.4" r="5.4"/><circle cx="1724.3" cy="941.0" r="5.4"/><circle cx="1792.8" cy="943.8" r="5.4"/></g>
<ellipse cx="1655.64" cy="828.52" rx="197.92" ry="84.85" transform="rotate(-150.46 1655.64 828.52)" fill="none" stroke="#000000" stroke-width="1.8"/>
<ellipse cx="1617.92" cy="905.12" rx="32.40" ry="200.64" transform="rotate(59.87 1617.92 905.12)" fill="none" stroke="#FF0000" stroke-width="1.8"/>
<ellipse cx="1725.66" cy="888.66" rx="93.21" ry="169.90" transform="rotate(87.40 1725.66 888.66)" fill="none" stroke="#00FF00" stroke-width="1.8"/>
<ellipse cx="1703.04" cy="939.16" rx="104.81" ry="147.59" transform="rotate(88.71 1703.04 939.16)" fill="none" stroke="#0000FF" stroke-width="1.8"/>
<line x1="1649.90" y1="893.50" x2="1789.43" y2="859.84" stroke="#008000" stroke-width="1.8"/>
<polygon points="1804.50,856.20 1788.66,865.16 1786.32,855.44" fill="#008000" stroke="#008000" stroke-width="1" stroke-linejoin="round"/>
<line x1="1649.90" y1="893.50" x2="1467.25" y2="938.31" stroke="#008000" stroke-width="1.8"/>
<polygon points="1452.20,942.00 1468.00,932.97 1470.39,942.69" fill="#008000" stroke="#008000" stroke-width="1" stroke-linejoin="round"/>
<line x1="1649.90" y1="893.50" x2="1847.45" y2="877.08" stroke="#008000" stroke-width="1.8"/>
<polygon points="1862.90,875.80 1845.87,882.23 1845.05,872.27" fill="#008000" stroke="#008000" stroke-width="1" stroke-linejoin="round"/>
<line x1="1649.90" y1="893.50" x2="1862.71" y2="943.46" stroke="#008000" stroke-width="1.8"/>
<polygon points="1877.80,947.00 1859.62,947.87 1861.91,938.13" fill="#008000" stroke="#008000" stroke-width="1" stroke-linejoin="round"/>
<line x1="1649.90" y1="893.50" x2="1649.26" y2="1045.50" stroke="#008000" stroke-width="1.8"/>
<polygon points="1649.20,1061.00 1644.27,1043.48 1654.27,1043.52" fill="#008000" stroke="#008000" stroke-width="1" stroke-linejoin="round"/>
<line x1="1649.90" y1="893.50" x2="1688.62" y2="1043.29" stroke="#008000" stroke-width="1.8"/>
<polygon points="1692.50,1058.30 1683.28,1042.61 1692.96,1040.11" fill="#008000" stroke="#008000" stroke-width="1" stroke-linejoin="round"/>
<line x1="1410.20" y1="897.60" x2="1950.60" y2="897.60" stroke="#000" stroke-width="1.6" stroke-linecap="butt"/>
<line x1="1680.60" y1="654.30" x2="1680.60" y2="1092.90" stroke="#000" stroke-width="1.6" stroke-linecap="butt"/>
<line x1="1401.70" y1="1092.10" x2="1410.20" y2="1092.10" stroke="#000" stroke-width="1.8" stroke-linecap="butt"/>
<line x1="1405.70" y1="1043.28" x2="1410.20" y2="1043.28" stroke="#000" stroke-width="1.8" stroke-linecap="butt"/>
<line x1="1401.70" y1="994.45" x2="1410.20" y2="994.45" stroke="#000" stroke-width="1.8" stroke-linecap="butt"/>
<line x1="1405.70" y1="945.62" x2="1410.20" y2="945.62" stroke="#000" stroke-width="1.8" stroke-linecap="butt"/>
<line x1="1401.70" y1="896.80" x2="1410.20" y2="896.80" stroke="#000" stroke-width="1.8" stroke-linecap="butt"/>
<line x1="1405.70" y1="847.97" x2="1410.20" y2="847.97" stroke="#000" stroke-width="1.8" stroke-linecap="butt"/>
<line x1="1401.70" y1="799.15" x2="1410.20" y2="799.15" stroke="#000" stroke-width="1.8" stroke-linecap="butt"/>
<line x1="1405.70" y1="750.32" x2="1410.20" y2="750.32" stroke="#000" stroke-width="1.8" stroke-linecap="butt"/>
<line x1="1401.70" y1="701.50" x2="1410.20" y2="701.50" stroke="#000" stroke-width="1.8" stroke-linecap="butt"/>
<line x1="1410.20" y1="1092.90" x2="1410.20" y2="1101.40" stroke="#000" stroke-width="1.8" stroke-linecap="butt"/>
<line x1="1477.77" y1="1092.90" x2="1477.77" y2="1097.40" stroke="#000" stroke-width="1.8" stroke-linecap="butt"/>
<line x1="1545.35" y1="1092.90" x2="1545.35" y2="1101.40" stroke="#000" stroke-width="1.8" stroke-linecap="butt"/>
<line x1="1612.92" y1="1092.90" x2="1612.92" y2="1097.40" stroke="#000" stroke-width="1.8" stroke-linecap="butt"/>
<line x1="1680.50" y1="1092.90" x2="1680.50" y2="1101.40" stroke="#000" stroke-width="1.8" stroke-linecap="butt"/>
<line x1="1748.08" y1="1092.90" x2="1748.08" y2="1097.40" stroke="#000" stroke-width="1.8" stroke-linecap="butt"/>
<line x1="1815.65" y1="1092.90" x2="1815.65" y2="1101.40" stroke="#000" stroke-width="1.8" stroke-linecap="butt"/>
<line x1="1883.23" y1="1092.90" x2="1883.23" y2="1097.40" stroke="#000" stroke-width="1.8" stroke-linecap="butt"/>
<line x1="1950.80" y1="1092.90" x2="1950.80" y2="1101.40" stroke="#000" stroke-width="1.8" stroke-linecap="butt"/>
<line x1="1410.20" y1="654.30" x2="1410.20" y2="1093.80" stroke="#000" stroke-width="1.8" stroke-linecap="butt"/>
<line x1="1409.30" y1="1092.90" x2="1950.60" y2="1092.90" stroke="#000" stroke-width="1.8" stroke-linecap="butt"/>
<line x1="1410.04" y1="654.30" x2="1410.04" y2="662.80" stroke="#FF8000" stroke-width="1.8" stroke-linecap="butt"/>
<line x1="1450.10" y1="654.30" x2="1450.10" y2="658.80" stroke="#FF8000" stroke-width="1.8" stroke-linecap="butt"/>
<line x1="1490.16" y1="654.30" x2="1490.16" y2="662.80" stroke="#FF8000" stroke-width="1.8" stroke-linecap="butt"/>
<line x1="1530.22" y1="654.30" x2="1530.22" y2="658.80" stroke="#FF8000" stroke-width="1.8" stroke-linecap="butt"/>
<line x1="1570.28" y1="654.30" x2="1570.28" y2="662.80" stroke="#FF8000" stroke-width="1.8" stroke-linecap="butt"/>
<line x1="1610.34" y1="654.30" x2="1610.34" y2="658.80" stroke="#FF8000" stroke-width="1.8" stroke-linecap="butt"/>
<line x1="1650.40" y1="654.30" x2="1650.40" y2="662.80" stroke="#FF8000" stroke-width="1.8" stroke-linecap="butt"/>
<line x1="1690.46" y1="654.30" x2="1690.46" y2="658.80" stroke="#FF8000" stroke-width="1.8" stroke-linecap="butt"/>
<line x1="1730.52" y1="654.30" x2="1730.52" y2="662.80" stroke="#FF8000" stroke-width="1.8" stroke-linecap="butt"/>
<line x1="1770.58" y1="654.30" x2="1770.58" y2="658.80" stroke="#FF8000" stroke-width="1.8" stroke-linecap="butt"/>
<line x1="1810.64" y1="654.30" x2="1810.64" y2="662.80" stroke="#FF8000" stroke-width="1.8" stroke-linecap="butt"/>
<line x1="1850.70" y1="654.30" x2="1850.70" y2="658.80" stroke="#FF8000" stroke-width="1.8" stroke-linecap="butt"/>
<line x1="1890.76" y1="654.30" x2="1890.76" y2="662.80" stroke="#FF8000" stroke-width="1.8" stroke-linecap="butt"/>
<line x1="1930.82" y1="654.30" x2="1930.82" y2="658.80" stroke="#FF8000" stroke-width="1.8" stroke-linecap="butt"/>
<line x1="1942.10" y1="1092.90" x2="1950.60" y2="1092.90" stroke="#FF8000" stroke-width="1.8" stroke-linecap="butt"/>
<line x1="1946.10" y1="1067.90" x2="1950.60" y2="1067.90" stroke="#FF8000" stroke-width="1.8" stroke-linecap="butt"/>
<line x1="1942.10" y1="1042.90" x2="1950.60" y2="1042.90" stroke="#FF8000" stroke-width="1.8" stroke-linecap="butt"/>
<line x1="1946.10" y1="1017.90" x2="1950.60" y2="1017.90" stroke="#FF8000" stroke-width="1.8" stroke-linecap="butt"/>
<line x1="1942.10" y1="992.90" x2="1950.60" y2="992.90" stroke="#FF8000" stroke-width="1.8" stroke-linecap="butt"/>
<line x1="1946.10" y1="967.90" x2="1950.60" y2="967.90" stroke="#FF8000" stroke-width="1.8" stroke-linecap="butt"/>
<line x1="1942.10" y1="942.90" x2="1950.60" y2="942.90" stroke="#FF8000" stroke-width="1.8" stroke-linecap="butt"/>
<line x1="1946.10" y1="917.90" x2="1950.60" y2="917.90" stroke="#FF8000" stroke-width="1.8" stroke-linecap="butt"/>
<line x1="1942.10" y1="892.90" x2="1950.60" y2="892.90" stroke="#FF8000" stroke-width="1.8" stroke-linecap="butt"/>
<line x1="1946.10" y1="867.90" x2="1950.60" y2="867.90" stroke="#FF8000" stroke-width="1.8" stroke-linecap="butt"/>
<line x1="1942.10" y1="842.90" x2="1950.60" y2="842.90" stroke="#FF8000" stroke-width="1.8" stroke-linecap="butt"/>
<line x1="1946.10" y1="817.90" x2="1950.60" y2="817.90" stroke="#FF8000" stroke-width="1.8" stroke-linecap="butt"/>
<line x1="1942.10" y1="792.90" x2="1950.60" y2="792.90" stroke="#FF8000" stroke-width="1.8" stroke-linecap="butt"/>
<line x1="1946.10" y1="767.90" x2="1950.60" y2="767.90" stroke="#FF8000" stroke-width="1.8" stroke-linecap="butt"/>
<line x1="1942.10" y1="742.90" x2="1950.60" y2="742.90" stroke="#FF8000" stroke-width="1.8" stroke-linecap="butt"/>
<line x1="1946.10" y1="717.90" x2="1950.60" y2="717.90" stroke="#FF8000" stroke-width="1.8" stroke-linecap="butt"/>
<line x1="1942.10" y1="692.90" x2="1950.60" y2="692.90" stroke="#FF8000" stroke-width="1.8" stroke-linecap="butt"/>
<line x1="1946.10" y1="667.90" x2="1950.60" y2="667.90" stroke="#FF8000" stroke-width="1.8" stroke-linecap="butt"/>
<line x1="1410.20" y1="654.30" x2="1951.50" y2="654.30" stroke="#FF8000" stroke-width="1.8" stroke-linecap="butt"/>
<line x1="1950.60" y1="654.30" x2="1950.60" y2="1092.90" stroke="#FF8000" stroke-width="1.8" stroke-linecap="butt"/>
<circle cx="1836.7" cy="674.3" r="5.4" fill="#000000"/>
<circle cx="1836.7" cy="718.4" r="5.4" fill="#FF0000"/>
<circle cx="1836.7" cy="762.6" r="5.4" fill="#00FF00"/>
<circle cx="1836.7" cy="806.8" r="5.4" fill="#0000FF"/>
<g font-family="Carlito, 'Liberation Sans', sans-serif">
<text x="18.69" y="46.60" font-size="37.00" font-weight="normal" textLength="17.72" lengthAdjust="spacingAndGlyphs">a</text>
<text x="1305.38" y="47.00" font-size="36.50" font-weight="normal" textLength="19.18" lengthAdjust="spacingAndGlyphs">b</text>
<text x="1304.40" y="650.60" font-size="35.00" font-weight="normal" textLength="14.80" lengthAdjust="spacingAndGlyphs">c</text>
<text x="65.75" y="129.00" font-size="42.50" font-weight="bold" textLength="52.53" lengthAdjust="spacingAndGlyphs">0.4</text>
<text x="66.57" y="329.90" font-size="42.50" font-weight="bold" textLength="52.53" lengthAdjust="spacingAndGlyphs">0.2</text>
<text x="66.16" y="530.80" font-size="42.50" font-weight="bold" textLength="52.53" lengthAdjust="spacingAndGlyphs">0.0</text>
<text x="54.02" y="731.70" font-size="42.50" font-weight="bold" textLength="65.08" lengthAdjust="spacingAndGlyphs">-0.2</text>
<text x="53.20" y="932.60" font-size="42.50" font-weight="bold" textLength="65.08" lengthAdjust="spacingAndGlyphs">-0.4</text>
<text x="184.50" y="980.00" font-size="42.50" font-weight="bold" textLength="65.08" lengthAdjust="spacingAndGlyphs">-0.3</text>
<text x="325.90" y="980.00" font-size="42.50" font-weight="bold" textLength="65.08" lengthAdjust="spacingAndGlyphs">-0.2</text>
<text x="467.50" y="980.00" font-size="42.50" font-weight="bold" textLength="65.08" lengthAdjust="spacingAndGlyphs">-0.1</text>
<text x="614.77" y="980.00" font-size="42.50" font-weight="bold" textLength="52.53" lengthAdjust="spacingAndGlyphs">0.0</text>
<text x="756.58" y="980.00" font-size="42.50" font-weight="bold" textLength="52.53" lengthAdjust="spacingAndGlyphs">0.1</text>
<text x="897.78" y="980.00" font-size="42.50" font-weight="bold" textLength="52.53" lengthAdjust="spacingAndGlyphs">0.2</text>
<text x="1039.18" y="980.00" font-size="42.50" font-weight="bold" textLength="52.53" lengthAdjust="spacingAndGlyphs">0.3</text>
<text x="175.81" y="90.40" font-size="42.50" font-weight="bold" textLength="65.08" lengthAdjust="spacingAndGlyphs">-0.6</text>
<text x="301.37" y="90.40" font-size="42.50" font-weight="bold" textLength="65.08" lengthAdjust="spacingAndGlyphs">-0.4</text>
<text x="427.54" y="90.40" font-size="42.50" font-weight="bold" textLength="65.08" lengthAdjust="spacingAndGlyphs">-0.2</text>
<text x="559.37" y="90.40" font-size="42.50" font-weight="bold" textLength="52.53" lengthAdjust="spacingAndGlyphs">0.0</text>
<text x="685.34" y="90.40" font-size="42.50" font-weight="bold" textLength="52.53" lengthAdjust="spacingAndGlyphs">0.2</text>
<text x="810.69" y="90.40" font-size="42.50" font-weight="bold" textLength="52.53" lengthAdjust="spacingAndGlyphs">0.4</text>
<text x="936.65" y="90.40" font-size="42.50" font-weight="bold" textLength="52.53" lengthAdjust="spacingAndGlyphs">0.6</text>
<text x="1062.62" y="90.40" font-size="42.50" font-weight="bold" textLength="52.53" lengthAdjust="spacingAndGlyphs">0.8</text>
<text x="1152.68" y="203.28" font-size="42.50" font-weight="bold" textLength="52.53" lengthAdjust="spacingAndGlyphs">0.8</text>
<text x="1152.68" y="294.61" font-size="42.50" font-weight="bold" textLength="52.53" lengthAdjust="spacingAndGlyphs">0.6</text>
<text x="1152.68" y="385.94" font-size="42.50" font-weight="bold" textLength="52.53" lengthAdjust="spacingAndGlyphs">0.4</text>
<text x="1152.68" y="477.27" font-size="42.50" font-weight="bold" textLength="52.53" lengthAdjust="spacingAndGlyphs">0.2</text>
<text x="1152.68" y="568.60" font-size="42.50" font-weight="bold" textLength="52.53" lengthAdjust="spacingAndGlyphs">0.0</text>
<text x="1152.68" y="659.93" font-size="42.50" font-weight="bold" textLength="65.08" lengthAdjust="spacingAndGlyphs">-0.2</text>
<text x="1152.68" y="751.26" font-size="42.50" font-weight="bold" textLength="65.08" lengthAdjust="spacingAndGlyphs">-0.4</text>
<text x="1152.68" y="842.59" font-size="42.50" font-weight="bold" textLength="65.08" lengthAdjust="spacingAndGlyphs">-0.6</text>
<text x="1152.68" y="933.92" font-size="42.50" font-weight="bold" textLength="65.08" lengthAdjust="spacingAndGlyphs">-0.8</text>
<text x="538.94" y="1057.80" font-size="39.80" font-weight="bold" textLength="203.25" lengthAdjust="spacingAndGlyphs">PC1 (41.4%)</text>
<text x="-68.06" y="520.00" font-size="39.80" font-weight="bold" textLength="207.18" lengthAdjust="spacingAndGlyphs" transform="rotate(-90 35.50 520.00)">PC2 (21.6%)</text>
<text x="1018.34" y="170.50" font-size="35.80" font-weight="bold" textLength="93.48" lengthAdjust="spacingAndGlyphs">ER_JH</text>
<text x="1018.34" y="232.70" font-size="35.80" font-weight="bold" textLength="97.37" lengthAdjust="spacingAndGlyphs">ER_SA</text>
<text x="1018.34" y="294.90" font-size="35.80" font-weight="bold" textLength="93.26" lengthAdjust="spacingAndGlyphs">ER_ZZ</text>
<text x="1018.34" y="357.10" font-size="35.80" font-weight="bold" textLength="87.79" lengthAdjust="spacingAndGlyphs">ER_ZJ</text>
<text x="1018.34" y="419.30" font-size="35.80" font-weight="bold" textLength="94.99" lengthAdjust="spacingAndGlyphs">ET_PA</text>
<text x="1018.34" y="481.50" font-size="35.80" font-weight="bold" textLength="85.26" lengthAdjust="spacingAndGlyphs">ET_ZJ</text>
<text x="846.30" y="439.40" font-size="28.80" font-weight="bold" textLength="71.25" lengthAdjust="spacingAndGlyphs">LH/LS</text>
<text x="195.80" y="571.20" font-size="28.80" font-weight="bold" textLength="82.54" lengthAdjust="spacingAndGlyphs">LCP/LS</text>
<text x="944.90" y="631.50" font-size="28.80" font-weight="bold" textLength="106.40" lengthAdjust="spacingAndGlyphs">DCP/LCP</text>
<text x="852.10" y="676.50" font-size="28.80" font-weight="bold" textLength="98.06" lengthAdjust="spacingAndGlyphs">LCF/LCP</text>
<text x="423.40" y="844.90" font-size="28.80" font-weight="bold" textLength="77.92" lengthAdjust="spacingAndGlyphs">DE/LH</text>
<text x="576.50" y="849.00" font-size="28.80" font-weight="bold" textLength="75.36" lengthAdjust="spacingAndGlyphs">DB/LS</text>
<text x="1356.15" y="53.40" font-size="26.00" font-weight="bold" textLength="34.30" lengthAdjust="spacingAndGlyphs">0.6</text>
<text x="1355.88" y="133.00" font-size="26.00" font-weight="bold" textLength="34.30" lengthAdjust="spacingAndGlyphs">0.4</text>
<text x="1356.42" y="212.60" font-size="26.00" font-weight="bold" textLength="34.30" lengthAdjust="spacingAndGlyphs">0.2</text>
<text x="1356.15" y="292.20" font-size="26.00" font-weight="bold" textLength="34.30" lengthAdjust="spacingAndGlyphs">0.0</text>
<text x="1348.22" y="371.80" font-size="26.00" font-weight="bold" textLength="42.50" lengthAdjust="spacingAndGlyphs">-0.2</text>
<text x="1347.69" y="451.40" font-size="26.00" font-weight="bold" textLength="42.50" lengthAdjust="spacingAndGlyphs">-0.4</text>
<text x="1437.97" y="517.60" font-size="26.00" font-weight="bold" textLength="42.50" lengthAdjust="spacingAndGlyphs">-0.4</text>
<text x="1546.29" y="517.60" font-size="26.00" font-weight="bold" textLength="42.50" lengthAdjust="spacingAndGlyphs">-0.2</text>
<text x="1658.31" y="517.60" font-size="26.00" font-weight="bold" textLength="34.30" lengthAdjust="spacingAndGlyphs">0.0</text>
<text x="1766.49" y="517.60" font-size="26.00" font-weight="bold" textLength="34.30" lengthAdjust="spacingAndGlyphs">0.2</text>
<text x="1874.27" y="517.60" font-size="26.00" font-weight="bold" textLength="34.30" lengthAdjust="spacingAndGlyphs">0.4</text>
<text x="1418.41" y="28.00" font-size="26.00" font-weight="bold" textLength="42.50" lengthAdjust="spacingAndGlyphs">-0.6</text>
<text x="1486.87" y="28.00" font-size="26.00" font-weight="bold" textLength="42.50" lengthAdjust="spacingAndGlyphs">-0.4</text>
<text x="1555.74" y="28.00" font-size="26.00" font-weight="bold" textLength="42.50" lengthAdjust="spacingAndGlyphs">-0.2</text>
<text x="1628.31" y="28.00" font-size="26.00" font-weight="bold" textLength="34.30" lengthAdjust="spacingAndGlyphs">0.0</text>
<text x="1697.04" y="28.00" font-size="26.00" font-weight="bold" textLength="34.30" lengthAdjust="spacingAndGlyphs">0.2</text>
<text x="1765.37" y="28.00" font-size="26.00" font-weight="bold" textLength="34.30" lengthAdjust="spacingAndGlyphs">0.4</text>
<text x="1834.11" y="28.00" font-size="26.00" font-weight="bold" textLength="34.30" lengthAdjust="spacingAndGlyphs">0.6</text>
<text x="1902.84" y="28.00" font-size="26.00" font-weight="bold" textLength="34.30" lengthAdjust="spacingAndGlyphs">0.8</text>
<text x="1955.39" y="51.80" font-size="26.00" font-weight="bold" textLength="34.30" lengthAdjust="spacingAndGlyphs">1.0</text>
<text x="1956.46" y="171.60" font-size="26.00" font-weight="bold" textLength="34.30" lengthAdjust="spacingAndGlyphs">0.5</text>
<text x="1956.46" y="291.40" font-size="26.00" font-weight="bold" textLength="34.30" lengthAdjust="spacingAndGlyphs">0.0</text>
<text x="1956.46" y="411.20" font-size="26.00" font-weight="bold" textLength="42.50" lengthAdjust="spacingAndGlyphs">-0.5</text>
<text x="1599.45" y="570.90" font-size="29.50" font-weight="bold" textLength="152.83" lengthAdjust="spacingAndGlyphs">PC1 (42.5%)</text>
<text x="1258.31" y="264.70" font-size="29.50" font-weight="bold" textLength="152.83" lengthAdjust="spacingAndGlyphs" transform="rotate(-90 1334.70 264.70)">PC2 (19.7%)</text>
<text x="1869.89" y="95.10" font-size="24.60" font-weight="bold" textLength="66.90" lengthAdjust="spacingAndGlyphs">ET_PA</text>
<text x="1869.89" y="142.20" font-size="24.60" font-weight="bold" textLength="60.05" lengthAdjust="spacingAndGlyphs">ET_ZJ</text>
<text x="1670.67" y="84.80" font-size="19.00" font-weight="bold" textLength="48.82" lengthAdjust="spacingAndGlyphs">LH/LS</text>
<text x="1436.67" y="327.90" font-size="19.00" font-weight="bold" textLength="56.55" lengthAdjust="spacingAndGlyphs">LCP/LS</text>
<text x="1776.77" y="266.20" font-size="19.00" font-weight="bold" textLength="67.18" lengthAdjust="spacingAndGlyphs">LCF/LCP</text>
<text x="1827.67" y="318.40" font-size="19.00" font-weight="bold" textLength="72.89" lengthAdjust="spacingAndGlyphs">DCP/LCP</text>
<text x="1728.37" y="386.50" font-size="19.00" font-weight="bold" textLength="53.38" lengthAdjust="spacingAndGlyphs">DE/LH</text>
<text x="1671.67" y="394.90" font-size="19.00" font-weight="bold" textLength="51.63" lengthAdjust="spacingAndGlyphs">DB/LS</text>
<text x="1360.38" y="710.50" font-size="26.00" font-weight="bold" textLength="34.30" lengthAdjust="spacingAndGlyphs">0.4</text>
<text x="1360.92" y="808.15" font-size="26.00" font-weight="bold" textLength="34.30" lengthAdjust="spacingAndGlyphs">0.2</text>
<text x="1360.65" y="905.80" font-size="26.00" font-weight="bold" textLength="34.30" lengthAdjust="spacingAndGlyphs">0.0</text>
<text x="1352.72" y="1003.45" font-size="26.00" font-weight="bold" textLength="42.50" lengthAdjust="spacingAndGlyphs">-0.2</text>
<text x="1352.19" y="1101.10" font-size="26.00" font-weight="bold" textLength="42.50" lengthAdjust="spacingAndGlyphs">-0.4</text>
<text x="1388.77" y="1127.60" font-size="26.00" font-weight="bold" textLength="42.50" lengthAdjust="spacingAndGlyphs">-0.4</text>
<text x="1524.19" y="1127.60" font-size="26.00" font-weight="bold" textLength="42.50" lengthAdjust="spacingAndGlyphs">-0.2</text>
<text x="1663.31" y="1127.60" font-size="26.00" font-weight="bold" textLength="34.30" lengthAdjust="spacingAndGlyphs">0.0</text>
<text x="1798.59" y="1127.60" font-size="26.00" font-weight="bold" textLength="34.30" lengthAdjust="spacingAndGlyphs">0.2</text>
<text x="1933.47" y="1127.60" font-size="26.00" font-weight="bold" textLength="34.30" lengthAdjust="spacingAndGlyphs">0.4</text>
<text x="1388.75" y="637.00" font-size="26.00" font-weight="bold" textLength="42.50" lengthAdjust="spacingAndGlyphs">-0.6</text>
<text x="1468.73" y="637.00" font-size="26.00" font-weight="bold" textLength="42.50" lengthAdjust="spacingAndGlyphs">-0.4</text>
<text x="1549.12" y="637.00" font-size="26.00" font-weight="bold" textLength="42.50" lengthAdjust="spacingAndGlyphs">-0.2</text>
<text x="1633.21" y="637.00" font-size="26.00" font-weight="bold" textLength="34.30" lengthAdjust="spacingAndGlyphs">0.0</text>
<text x="1713.46" y="637.00" font-size="26.00" font-weight="bold" textLength="34.30" lengthAdjust="spacingAndGlyphs">0.2</text>
<text x="1793.31" y="637.00" font-size="26.00" font-weight="bold" textLength="34.30" lengthAdjust="spacingAndGlyphs">0.4</text>
<text x="1873.57" y="637.00" font-size="26.00" font-weight="bold" textLength="34.30" lengthAdjust="spacingAndGlyphs">0.6</text>
<text x="1960.16" y="700.70" font-size="26.00" font-weight="bold" textLength="34.30" lengthAdjust="spacingAndGlyphs">0.8</text>
<text x="1960.16" y="750.70" font-size="26.00" font-weight="bold" textLength="34.30" lengthAdjust="spacingAndGlyphs">0.6</text>
<text x="1960.16" y="800.70" font-size="26.00" font-weight="bold" textLength="34.30" lengthAdjust="spacingAndGlyphs">0.4</text>
<text x="1960.16" y="850.70" font-size="26.00" font-weight="bold" textLength="34.30" lengthAdjust="spacingAndGlyphs">0.2</text>
<text x="1960.16" y="900.70" font-size="26.00" font-weight="bold" textLength="34.30" lengthAdjust="spacingAndGlyphs">0.0</text>
<text x="1960.16" y="950.70" font-size="26.00" font-weight="bold" textLength="42.50" lengthAdjust="spacingAndGlyphs">-0.2</text>
<text x="1960.16" y="1000.70" font-size="26.00" font-weight="bold" textLength="42.50" lengthAdjust="spacingAndGlyphs">-0.4</text>
<text x="1960.16" y="1050.70" font-size="26.00" font-weight="bold" textLength="42.50" lengthAdjust="spacingAndGlyphs">-0.6</text>
<text x="1960.16" y="1100.70" font-size="26.00" font-weight="bold" textLength="42.50" lengthAdjust="spacingAndGlyphs">-0.8</text>
<text x="1607.65" y="1170.20" font-size="29.50" font-weight="bold" textLength="152.83" lengthAdjust="spacingAndGlyphs">PC1 (42.2%)</text>
<text x="1264.21" y="873.00" font-size="29.50" font-weight="bold" textLength="152.83" lengthAdjust="spacingAndGlyphs" transform="rotate(-90 1340.60 873.00)">PC2 (23.5%)</text>
<text x="1876.47" y="685.50" font-size="23.00" font-weight="bold" textLength="61.56" lengthAdjust="spacingAndGlyphs">ER_JH</text>
<text x="1876.47" y="729.70" font-size="23.00" font-weight="bold" textLength="64.12" lengthAdjust="spacingAndGlyphs">ER_SA</text>
<text x="1876.47" y="773.90" font-size="23.00" font-weight="bold" textLength="61.41" lengthAdjust="spacingAndGlyphs">ER_ZZ</text>
<text x="1876.47" y="818.10" font-size="23.00" font-weight="bold" textLength="57.81" lengthAdjust="spacingAndGlyphs">ER_ZJ</text>
<text x="1819.67" y="860.50" font-size="19.00" font-weight="bold" textLength="48.82" lengthAdjust="spacingAndGlyphs">LH/LS</text>
<text x="1437.17" y="928.00" font-size="19.00" font-weight="bold" textLength="56.55" lengthAdjust="spacingAndGlyphs">LCP/LS</text>
<text x="1866.87" y="881.70" font-size="19.00" font-weight="bold" textLength="67.18" lengthAdjust="spacingAndGlyphs">LCF/LCP</text>
<text x="1862.17" y="965.30" font-size="19.00" font-weight="bold" textLength="72.89" lengthAdjust="spacingAndGlyphs">DCP/LCP</text>
<text x="1586.47" y="1055.90" font-size="19.00" font-weight="bold" textLength="53.38" lengthAdjust="spacingAndGlyphs">DE/LH</text>
<text x="1700.67" y="1053.20" font-size="19.00" font-weight="bold" textLength="51.63" lengthAdjust="spacingAndGlyphs">DB/LS</text>
</g>
</svg>
</div>
</body></html>
